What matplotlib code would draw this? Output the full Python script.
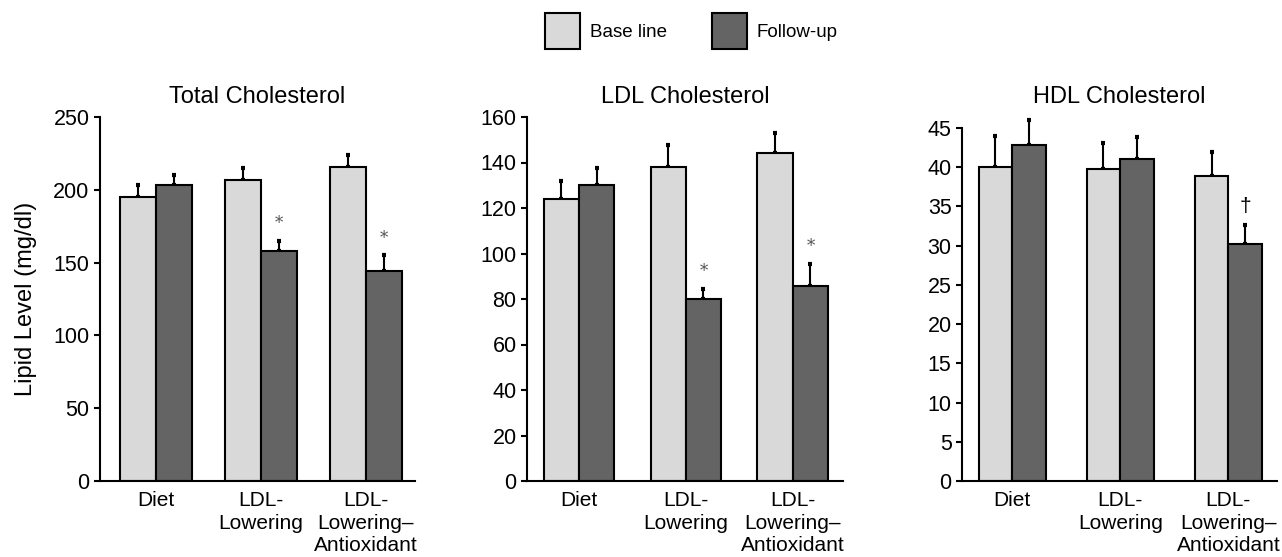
import matplotlib
matplotlib.use("Agg")
import matplotlib.pyplot as plt
from matplotlib.patches import Patch
import numpy as np

plt.rcParams['font.family'] = ['Liberation Sans', 'DejaVu Sans']

groups = ["Diet", "LDL-\nLowering", "LDL-\nLowering\u2013\nAntioxidant"]
series = ["Base line", "Follow-up"]

total_base = [195, 207, 216]
total_base_err = [8, 8, 8]
total_follow = [203, 158, 144]
total_follow_err = [7, 7, 11]
total_marks = ["", "*", "*"]

ldl_base = [124, 138, 144]
ldl_base_err = [8, 9.5, 9]
ldl_follow = [130, 80, 85.5]
ldl_follow_err = [7.5, 4.5, 10]
ldl_marks = ["", "*", "*"]

hdl_base = [40, 39.8, 38.9]
hdl_base_err = [4, 3.3, 3]
hdl_follow = [42.8, 41, 30.2]
hdl_follow_err = [3.2, 2.9, 2.4]
hdl_marks = ["", "", "\u2020"]

panels = [
    ("Total Cholesterol", total_base, total_base_err, total_follow, total_follow_err,
     total_marks, np.arange(0, 251, 50)),
    ("LDL Cholesterol", ldl_base, ldl_base_err, ldl_follow, ldl_follow_err,
     ldl_marks, np.arange(0, 161, 20)),
    ("HDL Cholesterol", hdl_base, hdl_base_err, hdl_follow, hdl_follow_err,
     hdl_marks, np.arange(0, 46, 5)),
]

W, H = 1282, 557
fig = plt.figure(figsize=(W / 100, H / 100), dpi=100)

# axes boxes in pixels: left, right, top, bottom
boxes = [(100, 415, 117, 481), (527, 843, 117, 481), (962, 1277, 128, 481)]
xlims = [(-0.533, 2.467), (-0.486, 2.47), (-0.463, 2.45)]
widths = [0.343, 0.33, 0.31]

light = "#d9d9d9"
dark = "#646464"

for i, (title, b, be, f, fe, marks, ticks) in enumerate(panels):
    l, r, t, btm = boxes[i]
    ax = fig.add_axes([l / W, 1 - btm / H, (r - l) / W, (btm - t) / H])
    x = np.arange(len(groups))
    w = widths[i]
    for xs, vals, errs, col in ((x - w / 2, b, be, light), (x + w / 2, f, fe, dark)):
        ax.bar(xs, vals, width=w, color=col, edgecolor="black", linewidth=1.5, zorder=2)
        ax.errorbar(xs, vals, yerr=[np.zeros(len(vals)), errs], fmt="none",
                    ecolor="black", elinewidth=1.5, capsize=1.2, capthick=3,
                    clip_on=False, zorder=1)
    for xi, v, e, m in zip(x + w / 2, f, fe, marks):
        if m:
            if m == "*":
                ax.annotate(m, (xi, v + e), xytext=(0, 6), textcoords="offset points",
                            ha="center", va="bottom", fontsize=12, color="#555555",
                            family="DejaVu Serif")
            else:
                ax.annotate(m, (xi, v + e), xytext=(0, 7), textcoords="offset points",
                            ha="center", va="bottom", fontsize=15, color="black")
    ax.set_xlim(*xlims[i])
    ax.set_ylim(0, ticks[-1])
    ax.set_yticks(ticks)
    ax.set_xticks(x)
    ax.set_xticklabels(groups, linespacing=1.22)
    ax.tick_params(axis="x", length=0, pad=7.5, labelsize=15)
    ax.tick_params(axis="y", length=4.5, width=1.5, pad=3, labelsize=15.5)
    for s in ("top", "right"):
        ax.spines[s].set_visible(False)
    for s in ("left", "bottom"):
        ax.spines[s].set_linewidth(1.5)
    ax.set_title(title, fontsize=17, pad=(t - 103) * 0.72)
    if i == 0:
        ax.set_ylabel("Lipid Level (mg/dl)", fontsize=17, labelpad=12)

handles = [Patch(facecolor=light, edgecolor="black", linewidth=1.5),
           Patch(facecolor=dark, edgecolor="black", linewidth=1.5)]
fig.legend(handles, series, loc="upper left", bbox_to_anchor=(545 / W, 1 - 13 / H),
           ncol=2, frameon=False, fontsize=13.5, handlelength=1.85, handleheight=2.58,
           handletextpad=0.55, columnspacing=2.4, borderpad=0, borderaxespad=0)

fig.savefig("out.png", dpi=100)
